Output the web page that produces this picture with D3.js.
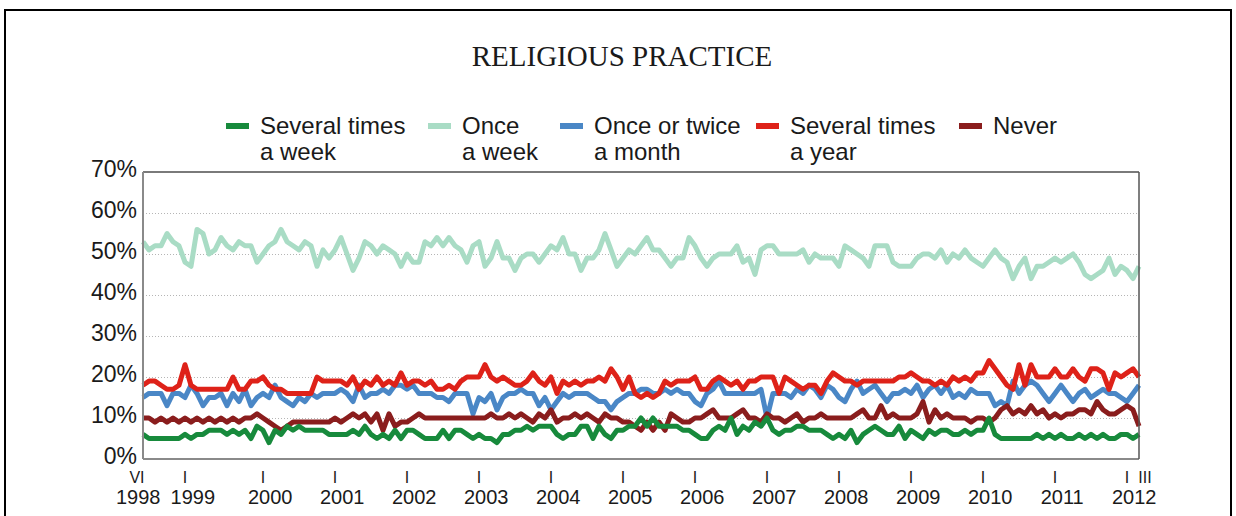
<!DOCTYPE html>
<html>
<head>
<meta charset="utf-8">
<script src="https://cdn.jsdelivr.net/npm/d3@7"></script>
<style>
  body { margin: 0; background: #fff; }
  svg text { font-family: "Liberation Sans", Arial, sans-serif; fill: #1a1a1a; }
</style>
</head>
<body>
<script>
// series names (legend, two lines each)
var seriesNames = [["Several times", "a week"], ["Once", "a week"], ["Once or twice", "a month"], ["Several times", "a year"], ["Never", ""]];
var seriesColors = ["#178a3c", "#a9dcc5", "#4a87c6", "#de2219", "#8a1d1d"];

// one value per survey, june 1998 .. march 2012 (%)
var onceWeek = [53,51,52,52,55,53,52,48,47,56,55,50,51,54,52,51,53,52,52,48,50,52,53,56,53,52,51,53,52,47,
  51,49,51,54,50,46,49,53,52,50,52,51,50,47,50,48,48,53,52,54,52,54,52,51,48,52,53,47,49,53,
  49,49,46,49,50,50,48,50,52,51,54,50,50,46,49,49,51,55,51,47,49,51,50,52,54,51,51,49,47,49,
  49,54,52,49,47,49,50,50,50,52,48,49,45,51,52,52,50,50,50,50,51,48,50,49,49,49,47,52,51,50,
  49,47,52,52,52,48,47,47,47,49,50,50,49,51,48,50,49,51,49,48,47,49,51,49,48,44,47,49,44,47,
  47,48,49,48,49,50,48,45,44,45,46,49,45,47,46,44,47];
var severalYear = [18,19,19,18,17,17,18,23,18,17,17,17,17,17,17,20,17,17,19,19,20,18,17,17,16,16,16,16,16,20,
  19,19,19,19,18,20,17,19,18,20,18,19,18,21,18,19,19,18,19,17,17,18,17,19,20,20,20,23,20,19,
  20,19,18,18,19,21,19,18,20,16,19,18,19,18,19,19,20,19,22,20,17,20,16,15,16,15,16,19,18,19,
  19,19,20,17,17,19,20,19,18,19,17,19,19,20,20,20,16,20,19,18,17,18,18,16,19,21,20,19,19,18,
  19,19,19,19,19,19,20,20,21,20,19,19,18,19,18,20,19,20,19,21,21,24,22,20,18,17,23,18,23,20,
  20,20,22,20,20,22,20,19,22,22,21,17,21,20,21,22,20];
var onceMonth = [15,16,16,16,13,16,16,15,18,16,13,15,15,16,13,16,14,17,13,15,16,15,18,15,14,13,15,14,16,15,
  16,16,16,17,16,14,18,15,16,16,17,16,18,18,17,18,16,16,16,15,15,14,16,16,16,11,15,14,16,12,
  15,16,16,17,16,16,13,15,12,14,16,15,16,16,16,15,14,14,12,14,15,16,16,17,17,16,16,17,16,17,
  16,16,14,13,16,17,19,16,16,16,16,16,16,17,10,16,16,16,15,17,16,18,17,15,18,17,15,14,17,19,
  16,17,18,16,14,16,16,17,16,18,15,17,18,16,18,15,16,15,17,16,16,16,13,14,13,19,16,18,19,18,
  16,14,16,18,16,14,16,17,15,16,17,16,16,15,14,16,18];
var never = [10,10,9,10,9,10,9,10,9,10,9,10,9,10,9,10,9,10,10,11,10,9,8,7,8,9,9,9,9,9,
  9,9,10,9,10,11,10,11,9,11,7,11,8,9,9,10,11,10,10,10,10,10,10,10,10,10,10,10,11,10,
  10,11,10,11,10,9,11,10,12,9,10,10,11,10,11,10,9,11,10,10,9,9,8,7,9,7,9,7,11,10,
  9,9,10,10,11,12,10,10,10,11,12,10,10,9,11,10,10,9,10,11,9,10,10,11,10,10,10,10,10,11,
  12,10,10,13,10,11,10,10,10,11,14,9,12,10,11,10,10,10,9,10,10,9,10,12,13,11,12,11,13,11,
  12,10,11,10,11,11,12,12,11,14,12,11,11,12,13,12,8];
var severalWeek = [6,5,5,5,5,5,5,6,5,6,6,7,7,7,6,7,6,7,5,8,7,4,7,6,8,7,8,7,7,7,
  7,6,6,6,6,7,6,8,6,5,6,5,7,5,7,7,6,5,5,5,7,5,7,7,6,5,6,5,5,4,
  6,6,7,7,8,7,8,8,8,6,5,6,6,8,8,5,8,6,5,7,7,8,8,10,8,10,8,8,8,8,
  7,7,6,5,5,7,8,7,10,6,8,7,9,8,10,7,6,7,7,8,8,7,7,7,6,5,6,5,7,4,
  6,7,8,7,6,6,8,5,7,6,5,7,6,7,7,6,6,7,6,7,7,10,6,5,5,5,5,5,5,6,
  5,6,5,6,5,5,6,5,6,5,6,5,5,6,6,5,6];

// tick labels on the time axis (survey index where they sit)
var monthLabels = ["VI", "I", "I", "I", "I", "I", "I", "I", "I", "I", "I", "I", "I", "I", "I", "III"];
var monthIndex = [-1, 7, 20, 32, 44, 56, 68, 80, 92, 104, 116, 128, 140, 152, 164, 167];
var yearLabels = ["1998", "1999", "2000", "2001", "2002", "2003", "2004", "2005", "2006", "2007", "2008", "2009", "2010", "2011", "2012"];
var yearIndex = [-0.8, 8.3, 21.2, 33.2, 45.2, 57.2, 69.2, 81.2, 93.2, 105.2, 117.2, 129.2, 141.2, 153.2, 165.2];
var yTicks = [0, 10, 20, 30, 40, 50, 60, 70];

var allSeries = [severalWeek, onceWeek, onceMonth, severalYear, never];
// order of drawing (top last): light green, blue, dark red, green, red
var drawOrder = [1, 2, 4, 0, 3];

var W = 1236, H = 516;
var plot = { left: 143, right: 1139, top: 172, bottom: 459 };

var svg = d3.select("body").append("svg")
    .attr("width", W)
    .attr("height", H);

// outer frame
svg.append("rect")
    .attr("x", 5).attr("y", 10)
    .attr("width", 1226).attr("height", 540)
    .attr("fill", "none")
    .attr("stroke", "#000")
    .attr("stroke-width", 2);

// title
svg.append("text")
    .attr("x", 622).attr("y", 66)
    .attr("text-anchor", "middle")
    .style("font-family", "'Liberation Serif', 'Times New Roman', serif")
    .style("font-size", "29px")
    .text("RELIGIOUS PRACTICE");

var xScale = d3.scaleLinear()
    .domain([0, severalWeek.length - 1])
    .range([plot.left, plot.right]);

var yScale = d3.scaleLinear()
    .domain([0, 70])
    .range([plot.bottom, plot.top]);

// dotted grid
svg.append("g")
    .attr("transform", "translate(" + plot.left + ",0)")
    .call(d3.axisLeft(yScale).tickValues(yTicks.slice(1, -1)).tickSize(-(plot.right - plot.left)).tickFormat(""))
    .call(function (g) { g.select(".domain").remove(); })
    .selectAll("line")
    .attr("stroke", "#b5b5b5")
    .attr("stroke-dasharray", "1,2");

// y labels (sit a little above their grid line)
svg.append("g")
    .attr("transform", "translate(" + (plot.left - 6) + ",-3)")
    .call(d3.axisLeft(yScale).tickValues(yTicks).tickSize(0).tickFormat(function (d) { return d + "%"; }))
    .call(function (g) { g.select(".domain").remove(); })
    .selectAll("text")
    .attr("x", 0)
    .style("font-size", "23px")
    .style("font-family", "'Liberation Sans', Arial, sans-serif")
    .attr("fill", "#1a1a1a");

// lines
var line = d3.line()
    .x(function (d, i) { return xScale(i); })
    .y(function (d) { return yScale(d); });

drawOrder.forEach(function (k) {
    svg.append("path")
        .datum(allSeries[k])
        .attr("d", line)
        .attr("fill", "none")
        .attr("stroke", seriesColors[k])
        .attr("stroke-width", 5)
        .attr("stroke-linejoin", "round");
});

// plot frame
svg.append("line").attr("x1", plot.left).attr("x2", plot.right).attr("y1", plot.top).attr("y2", plot.top)
    .attr("stroke", "#7a7a7a").attr("stroke-width", 2);
svg.append("line").attr("x1", plot.left).attr("x2", plot.right).attr("y1", plot.bottom).attr("y2", plot.bottom)
    .attr("stroke", "#8a8a8a").attr("stroke-width", 2);
svg.append("line").attr("x1", plot.left).attr("x2", plot.left).attr("y1", plot.top).attr("y2", plot.bottom)
    .attr("stroke", "#8a8a8a").attr("stroke-width", 2);
svg.append("line").attr("x1", plot.right).attr("x2", plot.right).attr("y1", plot.top).attr("y2", plot.bottom)
    .attr("stroke", "#555").attr("stroke-width", 1.5);

// time axis labels: month numerals and years
svg.selectAll(".month")
    .data(monthLabels)
    .enter().append("text")
    .attr("class", "month")
    .attr("x", function (d, i) { return xScale(monthIndex[i]); })
    .attr("y", 483)
    .attr("text-anchor", "middle")
    .style("font-size", "16px")
    .text(function (d) { return d; });

svg.selectAll(".year")
    .data(yearLabels)
    .enter().append("text")
    .attr("class", "year")
    .attr("x", function (d, i) { return xScale(yearIndex[i]); })
    .attr("y", 504)
    .attr("text-anchor", "middle")
    .style("font-size", "20px")
    .text(function (d) { return d; });

// legend
var legendX = [260, 462, 594, 790, 993];
var legend = svg.selectAll(".legend")
    .data(seriesNames)
    .enter().append("g")
    .attr("class", "legend")
    .attr("transform", function (d, i) { return "translate(" + legendX[i] + ",0)"; });

legend.append("line")
    .attr("x1", -34).attr("x2", -11)
    .attr("y1", 126).attr("y2", 126)
    .attr("stroke", function (d, i) { return seriesColors[i]; })
    .attr("stroke-width", 6);

legend.append("text")
    .attr("y", 134)
    .style("font-size", "24px")
    .text(function (d) { return d[0]; });

legend.append("text")
    .attr("y", 160)
    .style("font-size", "24px")
    .text(function (d) { return d[1]; });
</script>
</body>
</html>
